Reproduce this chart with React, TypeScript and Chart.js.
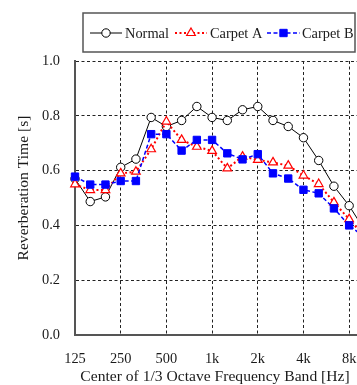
import React, { useEffect, useRef } from "react";
import { Chart, registerables } from "chart.js";
import { drawPoint } from "chart.js/helpers";

Chart.register(...registerables);

// 1/3 octave band centres (index positions on the x axis)
const bandLabels = ["125", "160", "200", "250", "315", "400", "500", "630", "800", "1k", "1.25k", "1.6k", "2k", "2.5k", "3.15k", "4k", "5k", "6.3k", "8k", "10k"];
// labelled octave ticks
const tickBands = ["125", "250", "500", "1k", "2k", "4k", "8k"];
const yTicks = [0, 0.2, 0.4, 0.6, 0.8, 1.0];

const normal = [0.57, 0.487, 0.504, 0.612, 0.642, 0.794, 0.761, 0.783, 0.834, 0.794, 0.783, 0.822, 0.834, 0.783, 0.761, 0.72, 0.637, 0.543, 0.472, 0.384];
const carpetA = [0.55, 0.529, 0.529, 0.59, 0.596, 0.678, 0.779, 0.712, 0.687, 0.672, 0.608, 0.651, 0.639, 0.63, 0.618, 0.582, 0.551, 0.484, 0.423, 0.36];
const carpetB = [0.578, 0.549, 0.549, 0.562, 0.562, 0.733, 0.733, 0.673, 0.712, 0.712, 0.663, 0.641, 0.66, 0.59, 0.571, 0.53, 0.517, 0.462, 0.40, 0.357];

const seriesNames = ["Normal", "Carpet A", "Carpet B"];
const xTitle = "Center of 1/3 Octave Frequency Band [Hz]";
const yTitle = "Reverberation Time [s]";

const FONT = "'Liberation Serif', 'Times New Roman', serif";

const toPoints = (vals: number[]) => vals.map((v, i) => ({ x: i, y: v }));

const overlayPlugin = {
  id: "overlay",
  afterDraw(chart: any) {
    const ctx = chart.ctx as CanvasRenderingContext2D;
    const area = chart.chartArea;
    ctx.save();
    ctx.fillStyle = "#1a1a1a";
    ctx.font = `15.6px ${FONT}`;
    // x title
    ctx.textAlign = "center";
    ctx.textBaseline = "middle";
    ctx.fillText(xTitle, 215, 377);
    // y title
    ctx.save();
    ctx.translate(24, (area.top + area.bottom) / 2 - 10);
    ctx.rotate(-Math.PI / 2);
    ctx.fillText(yTitle, 0, 0);
    ctx.restore();

    // legend box
    const bx = 83, by = 13, bw = 272, bh = 39;
    ctx.fillStyle = "#fff";
    ctx.fillRect(bx, by, bw, bh);
    ctx.strokeStyle = "#555";
    ctx.lineWidth = 1.5;
    ctx.strokeRect(bx, by, bw, bh);
    const cy = 33;
    const entries = [
      { x0: 90, x1: 122, tx: 125 },
      { x0: 175, x1: 207, tx: 210 },
      { x0: 267, x1: 300, tx: 302 },
    ];
    chart.data.datasets.forEach((ds: any, i: number) => {
      const e = entries[i];
      ctx.save();
      ctx.strokeStyle = ds.borderColor;
      ctx.lineWidth = ds.borderWidth;
      ctx.setLineDash(ds.borderDash || []);
      ctx.beginPath();
      ctx.moveTo(e.x0, cy);
      ctx.lineTo(e.x1, cy);
      ctx.stroke();
      ctx.setLineDash([]);
      ctx.fillStyle = ds.pointBackgroundColor;
      ctx.strokeStyle = ds.pointBorderColor;
      ctx.lineWidth = ds.pointBorderWidth;
      drawPoint(ctx, { pointStyle: ds.pointStyle, radius: ds.pointRadius, rotation: 0, borderWidth: ds.pointBorderWidth }, (e.x0 + e.x1) / 2, cy);
      ctx.restore();
      ctx.fillStyle = "#1a1a1a";
      ctx.textAlign = "left";
      ctx.textBaseline = "middle";
      ctx.font = `14.4px ${FONT}`;
      ctx.fillText(seriesNames[i], e.tx, cy + 1);
    });
    ctx.restore();
  },
};

const bgPlugin = {
  id: "bg",
  beforeDraw(chart: any) {
    const ctx = chart.ctx;
    ctx.save();
    ctx.fillStyle = "#fff";
    ctx.fillRect(0, 0, chart.width, chart.height);
    ctx.restore();
  },
};

export default function App() {
  const ref = useRef<HTMLCanvasElement | null>(null);
  useEffect(() => {
    if (!ref.current) return;
    const chart = new Chart(ref.current, {
      type: "line",
      data: {
        datasets: [
          {
            label: seriesNames[0],
            data: toPoints(normal),
            borderColor: "#000",
            borderWidth: 1,
            pointStyle: "circle",
            pointRadius: 4.2,
            pointBackgroundColor: "#fff",
            pointBorderColor: "#000",
            pointBorderWidth: 1,
            clip: false,
            order: 2,
          } as any,
          {
            label: seriesNames[1],
            data: toPoints(carpetA),
            borderColor: "#ff0000",
            borderWidth: 2,
            borderDash: [2, 2.5],
            pointStyle: "triangle",
            pointRadius: 5,
            pointBackgroundColor: "#fff",
            pointBorderColor: "#ff0000",
            pointBorderWidth: 1.2,
            clip: false,
            order: 1,
          } as any,
          {
            label: seriesNames[2],
            data: toPoints(carpetB),
            borderColor: "#0000ff",
            borderWidth: 1.5,
            borderDash: [4, 2.5],
            pointStyle: "rect",
            pointRadius: 5.2,
            pointBackgroundColor: "#0000ff",
            pointBorderColor: "#0000ff",
            pointBorderWidth: 1,
            clip: false,
            order: 0,
          } as any,
        ],
      },
      options: {
        animation: false,
        responsive: false,
        maintainAspectRatio: false,
        layout: { padding: { top: 61, left: 0, right: 8, bottom: 0 } },
        plugins: { legend: { display: false }, tooltip: { enabled: false } },
        elements: { line: { tension: 0 } },
        scales: {
          x: {
            type: "linear",
            min: 0,
            max: 19.5,
            afterBuildTicks: (scale: any) => {
              scale.ticks = tickBands.map((b) => ({ value: bandLabels.indexOf(b) }));
            },
            afterFit: (scale: any) => {
              scale.height = 50;
            },
            ticks: {
              autoSkip: false,
              maxRotation: 0,
              padding: 16,
              color: "#1a1a1a",
              font: { family: FONT, size: 14.4 },
              callback: (v: any) => bandLabels[v as number],
            },
            grid: { color: "#222", lineWidth: 1, drawTicks: false },
            border: { display: true, color: "#555", width: 2, dash: [3, 2.5] },
          },
          y: {
            type: "linear",
            min: 0,
            max: 1,
            afterBuildTicks: (scale: any) => {
              scale.ticks = yTicks.map((v) => ({ value: v }));
            },
            afterFit: (scale: any) => {
              scale.width = 75;
            },
            ticks: {
              padding: 15,
              color: "#1a1a1a",
              font: { family: FONT, size: 14.4 },
              callback: (v: any) => Number(v).toFixed(1),
            },
            grid: { color: "#222", lineWidth: 1, drawTicks: false },
            border: { display: true, color: "#555", width: 2, dash: [3, 2.5] },
          },
        },
      } as any,
      plugins: [bgPlugin, overlayPlugin],
    });
    return () => chart.destroy();
  }, []);

  return (
    <div style={{ position: "absolute", left: 0, top: 0, width: 357, height: 385, overflow: "hidden", background: "#fff" }}>
      <canvas ref={ref} width={380} height={385} style={{ display: "block", width: 380, height: 385 }} />
    </div>
  );
}
